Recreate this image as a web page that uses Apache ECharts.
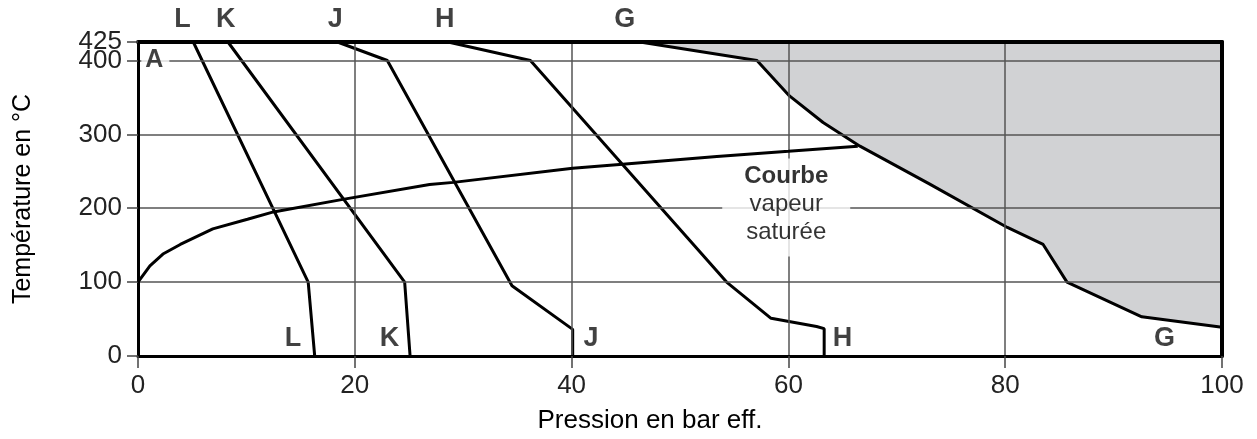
<!DOCTYPE html>
<html>
<head>
<meta charset="utf-8">
<script src="https://cdn.jsdelivr.net/npm/echarts@6/dist/echarts.min.js"></script>
<style>
html,body{margin:0;padding:0;background:#fff;}
#chart{width:1257px;height:439px;}
</style>
</head>
<body>
<div id="chart"></div>
<script>
// ---- data ----
const xTicks = [0, 20, 40, 60, 80, 100];
const yTicks = [0, 100, 200, 300, 400];
const yTopTick = [425];
const satCurve = [[0,100],[1.1,122],[2.3,138],[3.9,151],[6.9,172],[10.1,185],[12.5,195],[18.9,212],[26.9,232],[29.1,235],[40.1,254],[44.7,259.5],[53.4,270],[60,277],[66.4,284]];
const curveL = [[5.1,425],[15.7,100],[16.3,0]];
const curveK = [[8.3,425],[24.6,100],[25.1,0]];
const curveJ = [[18.4,425],[23.0,400],[34.5,95],[40.1,36],[40.1,0]];
const curveH = [[28.6,425],[36.2,400],[54.3,100],[58.4,51],[62.6,40],[63.3,37],[63.3,0]];
const curveG = [[46.3,425],[57.1,400],[60.1,352],[63.2,316],[66.6,284],[73,233],[80.2,174],[83.5,151],[85.7,100],[92.6,53],[100,39]];
const curveLabelsTop = [['L',4.1,455],['K',8.1,455],['J',18.2,455],['H',28.3,455],['G',44.9,455]];
const curveLabelsBottom = [['L',14.3,23],['K',23.2,23],['J',41.8,23],['H',65.0,23],['G',94.7,23]];
const pointA = ['A',1.6,401];
const satText = {x:59.8, y:201, title:'Courbe', lines:['vapeur','saturée']};
const xName = 'Pression en bar eff.';
const yName = 'Température en °C';

const FONT = 'Liberation Sans, Arial, sans-serif';
const chart = echarts.init(document.getElementById('chart'), null, {renderer:'canvas'});

function lineSeries(data, extra) {
  return Object.assign({
    type:'line', data:data, symbol:'none', silent:true,
    lineStyle:{color:'#000', width:3}, z:3
  }, extra || {});
}
const labelData = curveLabelsTop.concat(curveLabelsBottom).map(d => ({name:d[0], value:[d[1], d[2]]}));

const option = {
  animation:false,
  backgroundColor:'#fff',
  grid:{left:138, right:35, top:42, bottom:82},
  xAxis:[{
    type:'value', min:0, max:100, interval:20,
    name:xName, nameLocation:'middle', nameGap:52,
    nameTextStyle:{fontFamily:FONT, fontSize:26, color:'#000', padding:[0,60,0,0]},
    axisLine:{show:true, onZero:false, lineStyle:{color:'#000', width:3}},
    axisTick:{show:true, length:12, lineStyle:{color:'#444', width:1.5}, customValues:xTicks},
    axisLabel:{fontFamily:FONT, fontSize:26, color:'#222', margin:17, customValues:xTicks, showMaxLabel:true, showMinLabel:true},
    splitLine:{show:true, lineStyle:{color:'#555', width:1.5}},
    z:5
  },{
    type:'value', min:0, max:100, position:'top',
    axisLine:{show:true, onZero:false, lineStyle:{color:'#000', width:4}},
    axisTick:{show:false}, axisLabel:{show:false}, splitLine:{show:false},
    z:5
  }],
  yAxis:[{
    type:'value', min:0, max:425, interval:100,
    name:yName, nameLocation:'middle', nameGap:102, nameRotate:90,
    nameTextStyle:{fontFamily:FONT, fontSize:25, color:'#000'},
    axisLine:{show:true, onZero:false, lineStyle:{color:'#000', width:3}},
    axisTick:{show:true, length:11, lineStyle:{color:'#444', width:1.5}, customValues:yTicks},
    axisLabel:{fontFamily:FONT, fontSize:26, color:'#222', margin:16, customValues:yTicks},
    splitLine:{show:true, lineStyle:{color:'#555', width:1.5}},
    z:5
  },{
    type:'value', min:0, max:425, position:'right',
    axisLine:{show:true, onZero:false, lineStyle:{color:'#000', width:4}},
    axisTick:{show:false}, axisLabel:{show:false}, splitLine:{show:false},
    z:5
  },{
    type:'value', min:0, max:425, position:'left', offset:0,
    axisLine:{show:false, onZero:false},
    axisTick:{show:true, length:11, lineStyle:{color:'#444', width:1.5}, customValues:yTopTick},
    axisLabel:{fontFamily:FONT, fontSize:26, color:'#222', margin:16, customValues:yTopTick},
    splitLine:{show:false},
    z:5
  }],
  series:[
    lineSeries(curveG, {areaStyle:{color:'#d1d2d4', opacity:1, origin:'end'}, z:2}),
    lineSeries(satCurve, {z:7}),
    lineSeries(curveL),
    lineSeries(curveK),
    lineSeries(curveJ),
    lineSeries(curveH),
    {
      type:'scatter', data:labelData, symbolSize:1, clip:false, silent:true,
      itemStyle:{color:'transparent'}, z:6,
      label:{show:true, position:'inside', formatter:p=>p.name, fontFamily:FONT, fontWeight:'bold', fontSize:27, color:'#111'}
    },
    {
      type:'scatter', data:[{name:pointA[0], value:[pointA[1], pointA[2]]}], symbolSize:1, clip:false, silent:true,
      itemStyle:{color:'transparent'}, z:6,
      label:{show:true, position:'inside', formatter:p=>p.name, fontFamily:FONT, fontWeight:'bold', fontSize:25, color:'#111', backgroundColor:'#fff', padding:[0,6,0,4]}
    },
    {
      type:'scatter', data:[{name:'sat', value:[satText.x, satText.y]}], symbolSize:1, clip:false, silent:true,
      itemStyle:{color:'transparent'}, z:6,
      label:{show:true, position:'inside', align:'center', verticalAlign:'middle',
        formatter:'{b|' + satText.title + '}\n' + satText.lines.join('\n'),
        fontFamily:FONT, fontSize:24, color:'#000', lineHeight:28,
        backgroundColor:'#fff', padding:[4,22,10,22],
        rich:{b:{fontFamily:FONT, fontWeight:'bold', fontSize:24, lineHeight:28, color:'#000'}}}
    }
  ]
};
chart.setOption(option);
</script>
</body>
</html>
